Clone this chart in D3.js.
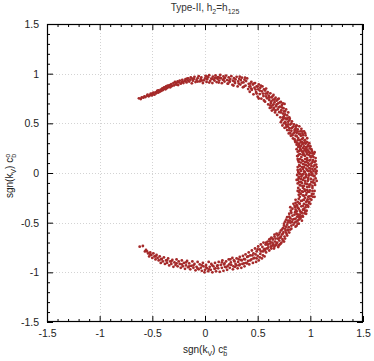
<!DOCTYPE html>
<html><head><meta charset="utf-8">
<script src="https://cdn.jsdelivr.net/npm/d3@7"></script>
<style>body{margin:0;background:#fff}svg{display:block}text{font-family:"Liberation Sans",Arial,sans-serif}</style>
</head><body><svg id="c" width="374" height="361"></svg>
<script>
const majorTicks=[-1.5,-1,-0.5,0,0.5,1,1.5];
const gridTicks=[-1,-0.5,0,0.5,1];
const minorTicks=[-1.4,-1.3,-1.2,-1.1,-0.9,-0.8,-0.7,-0.6,-0.4,-0.3,-0.2,-0.1,0.1,0.2,0.3,0.4,0.6,0.7,0.8,0.9,1.1,1.2,1.3,1.4];
const topArc=[[-0.627,0.752],[-0.61,0.745],[-0.60,0.762],[-0.585,0.758],[-0.575,0.771],[-0.565,0.764],[-0.55,0.778],[-0.545,0.790],[-0.535,0.772],[-0.52,0.785],[-0.515,0.798],[-0.505,0.781],[-0.495,0.793],[-0.49,0.808],[-0.48,0.789],
[-0.47,0.812],[-0.465,0.801],[-0.455,0.823],[-0.445,0.809],[-0.44,0.831],[-0.43,0.818],[-0.42,0.840],[-0.415,0.826],[-0.405,0.852],[-0.40,0.835],[-0.39,0.846],[-0.385,0.862],[-0.375,0.842],[-0.37,0.871],[-0.36,0.855],[-0.355,0.880],[-0.345,0.866],
[-0.335,0.885],[-0.33,0.862],[-0.32,0.894],[-0.315,0.875],[-0.30,0.905],[-0.295,0.882],[-0.285,0.917],[-0.28,0.893],[-0.27,0.908],[-0.26,0.921],[-0.255,0.886],[-0.245,0.912],[-0.24,0.930],[-0.23,0.899],[-0.22,0.917],[-0.215,0.938],[-0.205,0.905],
[-0.19,0.925],[-0.185,0.945],[-0.175,0.912],[-0.165,0.933],[-0.16,0.952],[-0.15,0.920],[-0.14,0.940],[-0.135,0.962],[-0.125,0.903],[-0.115,0.929],[-0.105,0.949],[-0.10,0.968],[-0.09,0.915],[-0.08,0.937],[-0.07,0.955],[-0.06,0.975],[-0.05,0.922],[-0.04,0.944],[-0.035,0.962],[-0.02,0.906],[-0.01,0.933],[0.0,0.952],[0.005,0.978],
[0.015,0.917],[0.02,0.944],[0.03,0.963],[0.04,0.985],[0.05,0.928],[0.06,0.950],[0.07,0.905],[0.075,0.971],[0.085,0.939],[0.095,0.958],[0.10,0.982],[0.11,0.915],[0.12,0.946],[0.125,0.966],[0.135,0.930],[0.145,0.987],[0.15,0.954],[0.16,0.904],[0.17,0.938],[0.175,0.972],[0.185,0.921],[0.19,0.958],[0.20,0.981],
[0.21,0.935],[0.215,0.899],[0.225,0.962],[0.235,0.918],[0.24,0.946],[0.25,0.975],[0.26,0.888],[0.265,0.929],[0.275,0.955],[0.285,0.905],[0.29,0.942],[0.30,0.968],[0.31,0.872],[0.315,0.921],[0.325,0.948],[0.335,0.890],[0.34,0.935],[0.35,0.960],[0.36,0.862],[0.365,0.912],[0.375,0.940],[0.385,0.880],[0.39,0.925],[0.40,0.952],
[0.41,0.845],[0.415,0.898],[0.425,0.818],[0.43,0.872],[0.44,0.918],[0.445,0.838],[0.455,0.890],[0.46,0.792],[0.47,0.858],[0.475,0.905],[0.485,0.815],[0.49,0.872],[0.50,0.768],[0.505,0.842],[0.51,0.892],[0.52,0.795],[0.525,0.858],[0.535,0.748],[0.54,0.822],[0.545,0.872],[0.555,0.775],[0.56,0.842],[0.57,0.718],[0.575,0.800],[0.58,0.850],[0.59,0.752],[0.595,0.815],[0.60,0.690]];
const topArcExtra=[[0.42,0.87],[0.44,0.85],[0.46,0.90],[0.48,0.84],[0.50,0.87],[0.52,0.83],[0.53,0.88],[0.55,0.80],[0.57,0.83],[0.58,0.77],[0.59,0.80],[0.49,0.80],[0.51,0.75],[0.56,0.73],[0.43,0.90],[0.32,0.90],[0.35,0.91],[0.37,0.87],[0.38,0.96],[0.33,0.97],[0.28,0.92],[0.27,0.88],[0.23,0.93],[0.22,0.90],[0.18,0.95],[0.14,0.96],[0.13,0.91],[0.11,0.96],[0.09,0.93],[0.07,0.95],[0.04,0.91],[0.02,0.97],[-0.03,0.93],[-0.07,0.92],[-0.12,0.95],[-0.17,0.95],[-0.21,0.92],[-0.27,0.89],[-0.34,0.88],[-0.39,0.86],[-0.45,0.83],[-0.50,0.80]];
const rightArc=[[0.605,0.778],[0.61,0.735],[0.615,0.655],[0.62,0.802],[0.625,0.705],[0.63,0.762],[0.635,0.628],[0.64,0.680],[0.645,0.738],[0.65,0.785],[0.655,0.655],[0.66,0.712],[0.665,0.610],[0.67,0.758],[0.675,0.672],[0.68,0.728],[0.685,0.585],[0.69,0.640],[0.695,0.700],[0.70,0.748],[0.705,0.612],[0.71,0.668],[0.715,0.560],[0.72,0.715],[0.725,0.632],[0.73,0.685],[0.735,0.538],[0.74,0.598],[0.745,0.652],[0.75,0.575],[0.755,0.695],[0.76,0.620],[0.765,0.505],
[0.72,0.512],[0.735,0.478],[0.745,0.548],[0.755,0.455],[0.76,0.515],[0.77,0.485],[0.775,0.540],[0.78,0.432],[0.785,0.470],[0.79,0.515],[0.795,0.398],[0.80,0.452],[0.805,0.545],[0.81,0.488],[0.815,0.375],[0.82,0.425],[0.825,0.520],[0.83,0.458],[0.835,0.348],[0.84,0.398],[0.845,0.490],[0.85,0.432],[0.855,0.322],[0.86,0.375],[0.865,0.468],[0.87,0.405],[0.875,0.305],[0.88,0.440],[0.885,0.352],[0.89,0.395],[0.895,0.470],[0.90,0.330],[0.905,0.420],[0.91,0.375],[0.915,0.445],[0.92,0.310],[0.925,0.398],[0.93,0.352],[0.94,0.420],[0.945,0.325],[0.955,0.378],[0.96,0.305],[0.97,0.350],
[0.87,0.285],[0.885,0.262],[0.895,0.295],[0.905,0.240],[0.91,0.272],[0.92,0.218],[0.925,0.290],[0.93,0.250],[0.935,0.195],[0.94,0.268],[0.945,0.228],[0.95,0.172],[0.955,0.295],[0.96,0.245],[0.965,0.205],[0.97,0.150],[0.975,0.268],[0.98,0.225],[0.985,0.182],[0.99,0.125],[0.995,0.248],[1.0,0.200],[1.005,0.158],[1.01,0.095],[1.015,0.222],[1.02,0.175],[1.025,0.130],[1.03,0.065],[1.035,0.195],[1.04,0.110],[1.045,0.040],[1.05,0.150],[1.055,0.085],[0.88,0.215],[0.875,0.170],[0.885,0.125],[0.89,0.185],[0.895,0.080],[0.90,0.140],[0.905,0.035],[0.91,0.105],[0.915,0.160],[0.92,0.060],[0.93,0.120],[0.94,0.015],[0.945,0.085],[0.95,0.140],[0.96,0.045],[0.965,0.110],[0.975,0.070],[0.98,0.020],[0.99,0.085],[1.0,0.045],[1.01,0.005],[1.02,0.040],[0.88,0.060],[0.885,0.010],[0.925,0.185],[0.97,0.235],[1.06,0.020],
[0.875,-0.020],[0.89,-0.055],[0.90,-0.010],[0.91,-0.090],[0.915,-0.035],[0.925,-0.130],[0.93,-0.070],[0.935,-0.010],[0.945,-0.165],[0.95,-0.105],[0.955,-0.045],[0.965,-0.200],[0.97,-0.140],[0.975,-0.080],[0.985,-0.025],[0.99,-0.235],[0.995,-0.175],[1.0,-0.115],[1.005,-0.060],[1.015,-0.210],[1.02,-0.150],[1.025,-0.095],[1.03,-0.030],[1.04,-0.180],[1.045,-0.120],[1.05,-0.055],[1.055,-0.005],[0.88,-0.105],[0.885,-0.150],[0.895,-0.195],[0.90,-0.240],[0.905,-0.125],[0.91,-0.280],[0.92,-0.185],[0.93,-0.225],[0.935,-0.270],[0.94,-0.050],[0.95,-0.250],[0.96,-0.290],[0.965,-0.110],[0.975,-0.265],[0.98,-0.190],[0.99,-0.140],[1.0,-0.260],[1.01,-0.020],[1.025,-0.240],[0.87,-0.070],[0.895,-0.090],[0.925,-0.015],[0.96,-0.015],
[0.84,-0.310],[0.855,-0.345],[0.86,-0.300],[0.87,-0.385],[0.875,-0.330],[0.885,-0.420],[0.89,-0.360],[0.895,-0.305],[0.905,-0.455],[0.91,-0.395],[0.915,-0.335],[0.925,-0.430],[0.93,-0.370],[0.94,-0.310],[0.945,-0.405],[0.955,-0.345],[0.965,-0.380],[0.975,-0.325],[0.985,-0.300],[0.80,-0.410],[0.81,-0.455],[0.815,-0.380],[0.825,-0.495],[0.83,-0.430],[0.84,-0.520],[0.845,-0.465],[0.855,-0.395],[0.86,-0.540],[0.865,-0.490],[0.875,-0.440],[0.88,-0.510],[0.89,-0.470],[0.90,-0.420],[0.78,-0.445],[0.785,-0.500],[0.795,-0.545],[0.805,-0.480],[0.82,-0.560],[0.77,-0.540],[0.76,-0.490],[0.75,-0.530],[0.74,-0.555],[0.81,-0.345],[0.92,-0.480],
[0.72,-0.580],[0.73,-0.620],[0.745,-0.595],[0.755,-0.640],[0.765,-0.580],[0.775,-0.615],[0.785,-0.570],[0.80,-0.600],[0.70,-0.620],[0.69,-0.660],[0.705,-0.680],[0.715,-0.650],[0.725,-0.700],[0.735,-0.665],[0.75,-0.690],[0.68,-0.610],[0.66,-0.640],[0.665,-0.690],[0.675,-0.725],[0.685,-0.700],[0.695,-0.745],[0.71,-0.720],[0.645,-0.670],[0.65,-0.720],[0.655,-0.760],[0.64,-0.700],[0.63,-0.650],[0.625,-0.740],[0.62,-0.690],[0.61,-0.780],[0.60,-0.720],[0.615,-0.665],[0.595,-0.690],[0.59,-0.760],[0.58,-0.800]];
const rightArcExtra=[[0.73,0.53],[0.75,0.50],[0.77,0.46],[0.79,0.49],[0.80,0.53],[0.82,0.50],[0.84,0.47],[0.86,0.45],[0.87,0.48],[0.78,0.55],
[0.80,0.43],[0.81,0.40],[0.83,0.38],[0.85,0.41],[0.87,0.37],[0.88,0.42],[0.90,0.39],[0.92,0.42],[0.93,0.38],[0.95,0.40],[0.86,0.43],[0.82,0.45],
[0.85,0.34],[0.86,0.31],[0.88,0.33],[0.89,0.28],[0.91,0.31],[0.92,0.34],[0.94,0.30],[0.95,0.33],[0.97,0.31],[0.98,0.28],[0.99,0.30],[0.90,0.26],[0.96,0.26],[1.0,0.27],
[0.87,0.24],[0.89,0.22],[0.90,0.19],[0.91,0.23],[0.93,0.21],[0.94,0.18],[0.96,0.22],[0.97,0.19],[0.99,0.21],[1.0,0.17],[1.02,0.20],[1.03,0.16],[1.04,0.21],[0.88,0.17],[0.95,0.24],[1.01,0.24],
[0.88,0.14],[0.89,0.11],[0.90,0.07],[0.92,0.13],[0.93,0.09],[0.95,0.11],[0.96,0.08],[0.97,0.13],[0.98,0.10],[1.0,0.13],[1.01,0.07],[1.02,0.11],[1.04,0.08],[1.05,0.12],[1.06,0.06],[0.94,0.06],[0.99,0.05],
[0.88,0.03],[0.89,0.00],[0.91,0.02],[0.92,-0.02],[0.93,0.04],[0.95,0.01],[0.96,-0.03],[0.97,0.03],[0.99,-0.01],[1.0,0.02],[1.02,-0.01],[1.03,0.02],[1.04,-0.03],[1.05,0.01],[0.98,-0.05],[0.89,-0.04],
[0.88,-0.07],[0.90,-0.12],[0.91,-0.06],[0.92,-0.10],[0.94,-0.13],[0.95,-0.08],[0.97,-0.11],[0.98,-0.07],[0.99,-0.12],[1.01,-0.09],[1.02,-0.13],[1.03,-0.07],[1.04,-0.10],[1.06,-0.08],[0.93,-0.15],
[0.88,-0.18],[0.89,-0.22],[0.90,-0.17],[0.91,-0.21],[0.93,-0.19],[0.94,-0.23],[0.95,-0.18],[0.96,-0.22],[0.98,-0.24],[0.99,-0.19],[1.01,-0.23],[1.02,-0.18],[1.03,-0.21],[1.04,-0.24],[0.97,-0.17],
[0.86,-0.27],[0.87,-0.32],[0.88,-0.29],[0.89,-0.26],[0.90,-0.31],[0.92,-0.28],[0.93,-0.33],[0.94,-0.27],[0.96,-0.32],[0.97,-0.28],[0.98,-0.34],[0.99,-0.29],[1.01,-0.27],[1.0,-0.31],[0.85,-0.33],
[0.82,-0.40],[0.83,-0.36],[0.85,-0.42],[0.86,-0.37],[0.87,-0.41],[0.89,-0.44],[0.90,-0.38],[0.92,-0.40],[0.93,-0.44],[0.95,-0.38],[0.94,-0.36],[0.96,-0.41],[0.80,-0.44],[0.88,-0.35],
[0.77,-0.47],[0.78,-0.52],[0.79,-0.48],[0.81,-0.50],[0.82,-0.53],[0.83,-0.47],[0.85,-0.50],[0.86,-0.46],[0.87,-0.53],[0.88,-0.48],[0.90,-0.46],[0.89,-0.51],[0.75,-0.51],[0.91,-0.44],
[0.73,-0.57],[0.74,-0.61],[0.76,-0.56],[0.77,-0.60],[0.79,-0.58],[0.81,-0.57],[0.78,-0.63],[0.76,-0.66],[0.74,-0.68],[0.72,-0.64],[0.70,-0.66],[0.71,-0.60],[0.69,-0.63],[0.67,-0.66],[0.68,-0.71],[0.70,-0.73],[0.72,-0.71],[0.66,-0.74],[0.64,-0.73],[0.63,-0.76],[0.62,-0.71],[0.61,-0.67],[0.60,-0.75],[0.59,-0.72],[0.57,-0.78],[0.58,-0.70],[0.64,-0.66],[0.66,-0.62],
[0.61,0.76],[0.62,0.68],[0.63,0.72],[0.64,0.77],[0.65,0.69],[0.66,0.74],[0.67,0.63],[0.68,0.69],[0.69,0.74],[0.70,0.66],[0.71,0.71],[0.72,0.61],[0.73,0.66],[0.74,0.70],[0.75,0.62],[0.76,0.59],[0.77,0.64],[0.74,0.56],[0.78,0.58],[0.79,0.61],[0.76,0.55],[0.80,0.56],[0.65,0.64],[0.63,0.66]];
const bottomArc=[[0.575,-0.720],[0.57,-0.765],[0.565,-0.840],[0.555,-0.700],[0.55,-0.790],[0.545,-0.745],[0.54,-0.860],[0.53,-0.720],[0.525,-0.815],[0.52,-0.770],[0.51,-0.880],[0.505,-0.740],[0.50,-0.835],[0.49,-0.790],[0.485,-0.895],[0.475,-0.760],[0.47,-0.855],[0.46,-0.810],[0.455,-0.905],[0.445,-0.780],[0.44,-0.870],[0.43,-0.830],[0.42,-0.920],[0.415,-0.800],[0.41,-0.885],[0.40,-0.845],
[0.39,-0.905],[0.385,-0.820],[0.375,-0.940],[0.37,-0.865],[0.36,-0.835],[0.355,-0.915],[0.345,-0.955],[0.34,-0.875],[0.33,-0.845],[0.325,-0.930],[0.315,-0.895],[0.31,-0.960],[0.30,-0.860],[0.29,-0.915],[0.285,-0.945],[0.275,-0.880],[0.265,-0.970],[0.26,-0.855],[0.25,-0.925],[0.245,-0.900],[0.235,-0.955],[0.225,-0.870],[0.215,-0.935],[0.21,-0.975],[0.20,-0.890],
[0.19,-0.945],[0.185,-0.910],[0.175,-0.985],[0.165,-0.880],[0.16,-0.955],[0.15,-0.925],[0.14,-0.995],[0.13,-0.895],[0.125,-0.960],[0.115,-0.935],[0.105,-0.990],[0.095,-0.905],[0.09,-0.965],[0.08,-0.940],[0.07,-1.000],[0.06,-0.915],[0.055,-0.975],[0.045,-0.945],[0.035,-0.895],[0.03,-0.990],[0.02,-0.960],[0.01,-0.925],[0.0,-0.975],[-0.005,-1.000],
[-0.015,-0.940],[-0.02,-0.905],[-0.03,-0.985],[-0.04,-0.955],[-0.05,-0.920],[-0.06,-0.970],[-0.07,-0.895],[-0.08,-0.945],[-0.09,-0.980],[-0.10,-0.915],[-0.11,-0.955],[-0.12,-0.890],[-0.13,-0.935],[-0.14,-0.970],[-0.15,-0.910],[-0.16,-0.950],[-0.17,-0.885],[-0.18,-0.930],[-0.19,-0.965],[-0.20,-0.905],
[-0.21,-0.940],[-0.22,-0.880],[-0.23,-0.955],[-0.24,-0.915],[-0.25,-0.890],[-0.26,-0.940],[-0.27,-0.870],[-0.28,-0.925],[-0.29,-0.900],[-0.30,-0.945],[-0.31,-0.875],[-0.32,-0.915],[-0.33,-0.890],[-0.34,-0.930],[-0.35,-0.860],[-0.36,-0.905],[-0.37,-0.880],[-0.38,-0.915],[-0.39,-0.850],[-0.40,-0.890],
[-0.41,-0.865],[-0.42,-0.905],[-0.43,-0.840],[-0.44,-0.880],[-0.45,-0.855],[-0.46,-0.825],[-0.47,-0.870],[-0.48,-0.840],[-0.49,-0.810],[-0.50,-0.855],[-0.51,-0.825],[-0.52,-0.800],[-0.53,-0.840],[-0.54,-0.810],[-0.55,-0.790],[-0.56,-0.775],[-0.59,-0.735],[-0.62,-0.742]];
const bottomArcExtra=[[0.56,-0.77],[0.55,-0.83],[0.53,-0.79],[0.52,-0.85],[0.50,-0.77],[0.49,-0.86],[0.48,-0.82],[0.46,-0.86],[0.45,-0.83],[0.43,-0.88],[0.41,-0.84],[0.40,-0.91],[0.38,-0.87],[0.37,-0.91],[0.35,-0.88],[0.33,-0.92],[0.32,-0.87],[0.30,-0.93],[0.28,-0.89],[0.27,-0.94],[0.24,-0.87],[0.23,-0.92],[0.20,-0.95],[0.18,-0.92],[0.16,-0.90],[0.12,-0.93],[0.10,-0.96],[0.07,-0.93],[0.04,-0.97],[0.01,-0.95],[-0.03,-0.93],[-0.07,-0.96],[-0.11,-0.93],[-0.15,-0.94],[-0.18,-0.90],[-0.22,-0.92],[-0.27,-0.91],[-0.32,-0.89],[-0.36,-0.88],[-0.42,-0.87],[-0.47,-0.84],[-0.52,-0.82],[-0.57,-0.79]];

const svg=d3.select("#c");
const L=47,R=363,T=24,B=322;
const x=d3.scaleLinear().domain([-1.5,1.5]).range([L,R]);
const y=d3.scaleLinear().domain([-1.5,1.5]).range([B,T]);
const fmt=d=>String(d);

// grid
const g=svg.append("g");
g.selectAll(".gx").data(gridTicks).join("line").attr("x1",d=>Math.round(x(d))+0.5).attr("x2",d=>Math.round(x(d))+0.5).attr("y1",T).attr("y2",B)
 .attr("stroke","#c8c8c8").attr("stroke-width",0.8).attr("stroke-dasharray","1,2");
g.selectAll(".gy").data(gridTicks).join("line").attr("y1",d=>Math.round(y(d))+0.5).attr("y2",d=>Math.round(y(d))+0.5).attr("x1",L).attr("x2",R)
 .attr("stroke","#c8c8c8").attr("stroke-width",0.8).attr("stroke-dasharray","1,2");

// points
const pts=topArc.concat(topArcExtra,rightArc,rightArcExtra,bottomArc,bottomArcExtra);
svg.append("g").selectAll("circle").data(pts).join("circle")
 .attr("cx",d=>x(d[0])).attr("cy",d=>y(d[1])).attr("r",1.4).attr("fill","#a52a2a");

function styleAxis(sel){sel.select(".domain").remove();sel.selectAll("line").attr("stroke","#000");sel.selectAll("text").attr("font-size","10.5px").attr("fill","#222").attr("font-family","Liberation Sans, Arial, sans-serif");}
svg.append("g").attr("transform",`translate(0,${B})`).call(d3.axisBottom(x).tickValues(majorTicks).tickFormat(fmt).tickSizeInner(-6).tickSizeOuter(0).tickPadding(8)).call(styleAxis);
svg.append("g").attr("transform",`translate(0,${B})`).call(d3.axisBottom(x).tickValues(minorTicks).tickFormat("").tickSizeInner(-3).tickSizeOuter(0)).call(styleAxis);
svg.append("g").attr("transform",`translate(0,${T})`).call(d3.axisTop(x).tickValues(majorTicks).tickFormat("").tickSizeInner(-6).tickSizeOuter(0)).call(styleAxis);
svg.append("g").attr("transform",`translate(0,${T})`).call(d3.axisTop(x).tickValues(minorTicks).tickFormat("").tickSizeInner(-3).tickSizeOuter(0)).call(styleAxis);
svg.append("g").attr("transform",`translate(${L},0)`).call(d3.axisLeft(y).tickValues(majorTicks).tickFormat(fmt).tickSizeInner(-6).tickSizeOuter(0).tickPadding(8)).call(styleAxis);
svg.append("g").attr("transform",`translate(${L},0)`).call(d3.axisLeft(y).tickValues(minorTicks).tickFormat("").tickSizeInner(-3).tickSizeOuter(0)).call(styleAxis);
svg.append("g").attr("transform",`translate(${R},0)`).call(d3.axisRight(y).tickValues(majorTicks).tickFormat("").tickSizeInner(-6).tickSizeOuter(0)).call(styleAxis);
svg.append("g").attr("transform",`translate(${R},0)`).call(d3.axisRight(y).tickValues(minorTicks).tickFormat("").tickSizeInner(-3).tickSizeOuter(0)).call(styleAxis);

svg.append("rect").attr("x",L+0.5).attr("y",T+0.5).attr("width",R-L-1).attr("height",B-T-1).attr("fill","none").attr("stroke","#000").attr("stroke-width",1.2);

const t=svg.append("text").attr("x",205).attr("y",11).attr("text-anchor","middle").attr("font-size","10px").attr("fill","#333");
t.append("tspan").text("Type-II, h");
t.append("tspan").attr("font-size","7px").attr("dy",2.5).text("2");
t.append("tspan").attr("dy",-2.5).text("=h");
t.append("tspan").attr("font-size","7px").attr("dy",2.5).text("125");

function cLabel(sel,sup){
 sel.append("tspan").text("sgn(k");
 sel.append("tspan").attr("font-size","7px").attr("dy",2.5).text("V");
 sel.append("tspan").attr("dy",-2.5).text(") c");
 sel.append("tspan").attr("font-size","7px").attr("dy",2.5).text("b");
 sel.append("tspan").attr("font-size","7px").attr("dx",-3.9).attr("dy",-6).text(sup);
}
const xl=svg.append("text").attr("x",205).attr("y",353).attr("text-anchor","middle").attr("font-size","10px").attr("fill","#222");
cLabel(xl,"e");
const yl=svg.append("text").attr("transform","translate(13,176) rotate(-90)").attr("text-anchor","middle").attr("font-size","10px").attr("fill","#222");
cLabel(yl,"o");
</script></body></html>
